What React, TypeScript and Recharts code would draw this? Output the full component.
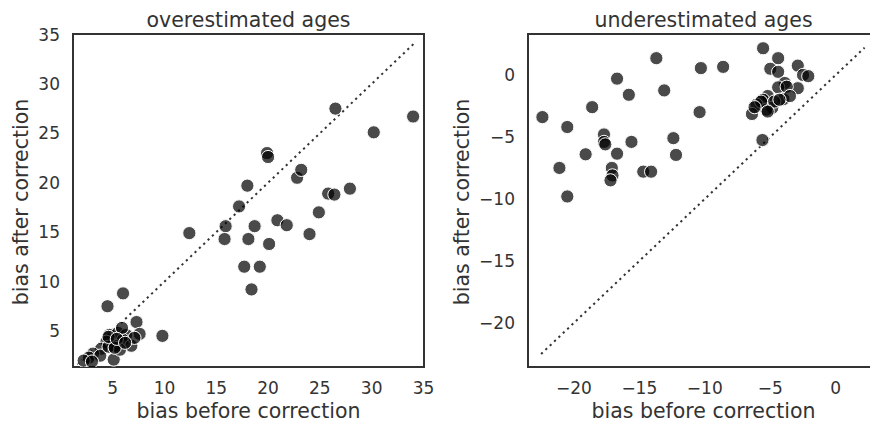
import { ScatterChart, Scatter, XAxis, YAxis, ReferenceLine, ReferenceArea } from 'recharts';

// overestimated ages (left panel)
const overBefore = [
  34.0, 26.5, 30.2, 19.9, 20.0, 22.8, 23.2, 18.0, 25.8, 26.4, 27.9, 17.2, 24.9, 12.4, 15.9, 15.8,
  18.7, 18.1, 20.9, 21.8, 20.1, 24.0, 17.7, 19.2, 18.4, 9.8, 6.0, 4.5, 7.3, 7.6,
  4.7, 5.5, 6.3, 6.0, 5.2, 4.4, 3.9, 3.1, 2.7, 3.8, 5.1, 6.8, 7.1, 5.9, 4.6, 2.2, 3.0, 5.7, 5.2,
  4.6, 5.4, 6.2,
];
const overAfter = [
  26.7, 27.5, 25.1, 23.0, 22.6, 20.5, 21.3, 19.7, 18.9, 18.8, 19.4, 17.6, 17.0, 14.9, 15.6, 14.3,
  15.6, 14.3, 16.2, 15.7, 13.8, 14.8, 11.5, 11.5, 9.2, 4.5, 8.8, 7.5, 5.9, 4.7,
  4.6, 4.8, 4.6, 4.1, 3.5, 3.9, 3.2, 2.7, 2.3, 2.5, 2.1, 3.5, 4.3, 5.3, 3.4, 2.0, 1.9, 3.1, 3.3,
  4.4, 4.2, 3.8,
];

// underestimated ages (right panel)
const underBefore = [
  -22.4, -20.5, -21.1, -20.5, -18.6, -19.1, -17.7, -17.7, -17.6, -16.7, -16.7, -17.1, -17.05, -17.2,
  -15.8, -15.6, -13.7, -13.1, -14.7, -14.1, -12.4, -12.2, -10.3, -8.6, -10.4, -5.55, -5.6, -4.4,
  -5.0, -4.4, -2.9, -2.5, -2.1, -3.9, -4.4, -2.9, -3.75, -4.0, -3.5, -5.2, -5.55, -6.05, -6.4,
  -4.85, -5.3, -4.7, -5.7, -4.3, -5.2, -6.2,
];
const underAfter = [
  -3.4, -4.2, -7.5, -9.8, -2.6, -6.4, -4.8, -5.4, -5.6, -0.3, -6.35, -7.5, -8.1, -8.5,
  -1.6, -5.4, 1.35, -1.25, -7.8, -7.8, -5.1, -6.45, 0.55, 0.65, -3.0, 2.15, -5.25, 1.35,
  0.5, 0.25, 0.75, 0.0, -0.1, -0.65, -1.0, -1.07, -0.95, -1.95, -1.7, -1.7, -2.0, -2.4, -3.15,
  -2.65, -2.8, -2.15, -2.15, -2.0, -2.95, -2.6,
];

const overTicksX = [5, 10, 15, 20, 25, 30, 35];
const overTicksY = [5, 10, 15, 20, 25, 30, 35];
const underTicksX = [-20, -15, -10, -5, 0];
const underTicksY = [-20, -15, -10, -5, 0];

const INK = '#333';
const FONT = 'DejaVu Sans, sans-serif';

const zip = (xs: number[], ys: number[]) => xs.map((x, i) => ({ x, y: ys[i] }));
const fmt = (v: number) => String(v).replace('-', '\u2212');

const Dot = (p: any) => (
  <circle cx={p.cx} cy={p.cy} r={6.6} fill="#000" fillOpacity={0.71} stroke="#fff" strokeWidth={1} />
);

type PanelProps = {
  left: number;
  width: number;
  rightMargin: number;
  yAxisWidth: number;
  xDomain: [number, number];
  yDomain: [number, number];
  xTicks: number[];
  yTicks: number[];
  diag: [number, number];
  data: { x: number; y: number }[];
};

function Panel(p: PanelProps) {
  const tick = { fill: INK, fontSize: 17, fontFamily: FONT };
  return (
    <div style={{ position: 'absolute', left: p.left, top: 0 }}>
      <ScatterChart width={p.width} height={423} margin={{ top: 34, right: p.rightMargin, bottom: 0, left: 0 }}>
        <XAxis
          type="number"
          dataKey="x"
          domain={p.xDomain}
          ticks={p.xTicks}
          allowDataOverflow
          height={56}
          axisLine={false}
          tickLine={false}
          tickSize={0}
          tickMargin={15}
          tick={tick}
          tickFormatter={fmt}
          interval={0}
        />
        <YAxis
          type="number"
          dataKey="y"
          domain={p.yDomain}
          ticks={p.yTicks}
          allowDataOverflow
          width={p.yAxisWidth}
          axisLine={false}
          tickLine={false}
          tickSize={0}
          tickMargin={13}
          tick={tick}
          tickFormatter={fmt}
          interval={0}
        />
        <ReferenceArea
          x1={p.xDomain[0]}
          x2={p.xDomain[1]}
          y1={p.yDomain[0]}
          y2={p.yDomain[1]}
          fill="none"
          fillOpacity={0}
          stroke={INK}
          strokeWidth={2}
          ifOverflow="visible"
        />
        <Scatter data={p.data} shape={Dot} isAnimationActive={false} />
        <ReferenceLine
          segment={[
            { x: p.diag[0], y: p.diag[0] },
            { x: p.diag[1], y: p.diag[1] },
          ]}
          stroke={INK}
          strokeWidth={2}
          strokeDasharray="2.2 3.8"
          ifOverflow="visible"
        />
      </ScatterChart>
    </div>
  );
}

export default function App() {
  const label = { fill: INK, fontSize: 20.5, fontFamily: FONT, textAnchor: 'middle' as const, dominantBaseline: 'central' as const };
  return (
    <div style={{ position: 'absolute', left: 0, top: 0, width: 870, height: 423, overflow: 'hidden', background: '#fff' }}>
      <Panel
        left={0}
        width={435}
        rightMargin={11}
        yAxisWidth={73}
        xDomain={[1.17, 35.05]}
        yDomain={[1.35, 35.05]}
        xTicks={overTicksX}
        yTicks={overTicksY}
        diag={[1.6, 34.1]}
        data={zip(overBefore, overAfter)}
      />
      <Panel
        left={435}
        width={450}
        rightMargin={6}
        yAxisWidth={93}
        xDomain={[-23.5, 3.3]}
        yDomain={[-23.55, 3.3]}
        xTicks={underTicksX}
        yTicks={underTicksY}
        diag={[-22.5, 2.2]}
        data={zip(underBefore, underAfter)}
      />
      <svg width={870} height={423} style={{ position: 'absolute', left: 0, top: 0, pointerEvents: 'none' }}>
        <text x={248.5} y={20} {...label}>overestimated ages</text>
        <text x={703.5} y={20} {...label}>underestimated ages</text>
        <text x={248.5} y={411} {...label}>bias before correction</text>
        <text x={703.5} y={411} {...label}>bias before correction</text>
        <text x={20.5} y={202} {...label} transform="rotate(-90 20.5 202)">bias after correction</text>
        <text x={461.5} y={202} {...label} transform="rotate(-90 461.5 202)">bias after correction</text>
      </svg>
    </div>
  );
}
